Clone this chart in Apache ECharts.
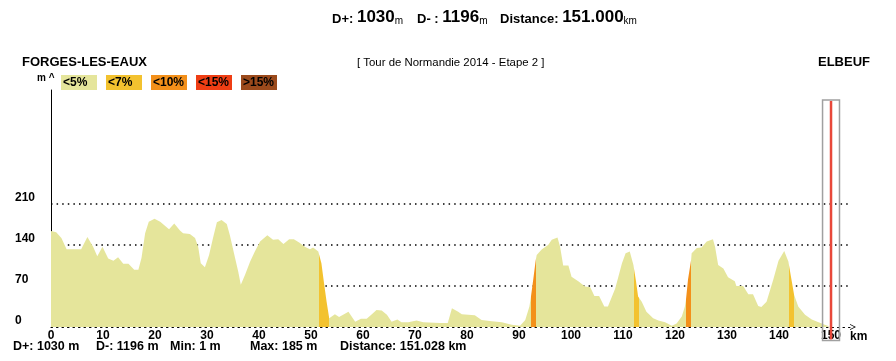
<!DOCTYPE html>
<html><head><meta charset="utf-8">
<script src="https://cdn.jsdelivr.net/npm/echarts/dist/echarts.min.js"></script>
<style>html,body{margin:0;padding:0;background:#fff}#c{width:896px;height:361px}</style>
</head><body><div id="c"></div>
<script>
// ---- data ----
const distanceKm = [0,1.0,2.0,3.0,4.5,5.8,7.0,8.1,8.9,9.9,11.0,12.0,12.9,13.9,14.9,16.0,16.8,17.4,18.1,18.8,19.9,21.0,22.7,23.7,24.8,25.4,26.7,27.7,28.3,28.8,29.6,30.4,31.2,31.9,32.8,33.8,34.4,35.4,36.0,36.5,37.3,38.3,39.2,40.2,41.6,42.7,43.7,44.7,45.8,46.7,47.8,48.8,49.8,50.4,51.4,52.0,52.5,53.0,53.5,54.6,55.4,57.2,58.5,59.6,60.7,61.7,62.6,63.6,64.6,65.5,66.6,67.4,68.7,70.3,71.6,74.8,76.3,77.1,78.3,79.0,81.5,82.8,84.8,86.7,88.6,90.2,91.2,92.0,92.3,92.75,93.2,93.4,94.4,95.6,96.3,97.4,97.9,98.5,99.5,100.1,101.4,102.7,103.7,104.5,105.4,106.4,107.1,108.5,109.8,110.5,111.3,112.0,112.5,112.9,113.6,114.5,115.8,116.8,118.1,119.4,120.3,121.3,121.9,122.1,122.5,123.1,123.2,124.2,125.1,126.1,127.3,127.7,128.3,129.3,130.2,131.5,131.8,133.1,134.1,135.0,136.0,136.6,137.6,138.9,139.9,141.0,141.8,142.3,142.9,143.7,145.0,146.3,147.6,148.8,149.8];
const elevationM = [164,162,152,133,133,133,154,137,121,137,117,113,119,108,108,98,98,118,160,180,185,180,167,177,165,160,159,152,137,109,102,123,154,179,183,176,157,118,95,72,89,112,129,146,157,149,150,142,150,150,144,137,133,136,129,109,75,43,15,22,17,26,9,14,14,22,29,28,21,9,13,8,8,11,8,7,7,32,26,22,20,12,10,8,4,2,12,35,52,82,113,123,133,140,149,153,137,105,105,86,78,69,68,53,53,35,35,66,109,126,129,106,78,52,43,26,15,11,8,2,6,18,35,46,81,115,126,135,136,146,150,137,106,100,85,78,70,70,56,56,36,34,43,81,113,130,112,86,55,35,21,13,8,4,1];
// steep sections: start km, end km, gradient class index
const gradeStartKm = [51.5, 92.3, 112.1, 122.1, 141.9];
const gradeEndKm   = [53.5, 93.2, 113.1, 123.1, 142.9];
const gradeClass   = [1, 2, 1, 2, 1];
const classLabels = ['<5%', '<7%', '<10%', '<15%', '>15%'];
const yTickValues = [0, 70, 140, 210];
const xTickValues = [0,10,20,30,40,50,60,70,80,90,100,110,120,130,140,150];
const startName = 'FORGES-LES-EAUX';
const finishName = 'ELBEUF';
const stageTitle = '[ Tour de Normandie 2014 - Etape 2 ]';
const headerStats = [['D+:', '1030', 'm'], ['D- :', '1196', 'm'], ['Distance:', '151.000', 'km']];
const footerStats = ['D+: 1030 m', 'D-: 1196 m', 'Min: 1 m', 'Max: 185 m', 'Distance: 151.028 km'];
const finishKm = 150;
const finishTopM = 388;

// ---- styles ----
const FONT = '"Liberation Sans", Arial, sans-serif';
const classColors = ['#e5e59b', '#f3c22f', '#f3901a', '#ef3e14', '#9b4a1c'];

const profile = distanceKm.map((d, i) => [d, elevationM[i]]);
const pieces = gradeStartKm.map((s, i) => ({ gte: s, lte: gradeEndKm[i], color: classColors[gradeClass[i]] }));

const chart = echarts.init(document.getElementById('c'), null, { renderer: 'canvas' });

const option = {
  animation: false,
  backgroundColor: '#ffffff',
  grid: { left: 51, right: 46, top: 90, bottom: 34, containLabel: false, outerBoundsMode: 'none' },
  xAxis: {
    type: 'value', min: 0, max: 153.65, interval: 10,
    name: 'km', nameLocation: 'end', nameGap: 0,
    nameTextStyle: { fontFamily: FONT, fontWeight: 'bold', fontSize: 12, color: '#000', align: 'left', verticalAlign: 'top', padding: [4, 0, 0, 0] },
    axisLine: { show: true, lineStyle: { color: '#000', width: 1, type: [1.5, 4] },
      symbol: ['none', 'path://M0,10 L5,0 L10,10 L8.6,10 L5,2.8 L1.4,10 Z'], symbolSize: [7, 6], symbolOffset: [0, 3] },
    axisTick: { show: false },
    splitLine: { show: false },
    axisLabel: {
      margin: 3, fontFamily: FONT, fontWeight: 'bold', fontSize: 12, color: '#000',
      showMaxLabel: true,
      formatter: v => (xTickValues.indexOf(Math.round(v * 1000) / 1000) >= 0 ? String(v) : '')
    }
  },
  yAxis: {
    type: 'value', min: 0, max: 405, interval: 70,
    axisLine: { show: true, lineStyle: { color: '#000', width: 1 } },
    axisTick: { show: false },
    splitLine: { show: false },
    axisLabel: {
      margin: 36, align: 'left', verticalAlign: 'bottom',
      fontFamily: FONT, fontWeight: 'bold', fontSize: 12, color: '#000',
      formatter: v => (yTickValues.indexOf(v) >= 0 ? String(v) : '')
    }
  },
  visualMap: {
    show: false, type: 'piecewise', dimension: 0, seriesIndex: 0,
    pieces: pieces,
    outOfRange: { color: classColors[0] }
  },
  series: [{
    type: 'line', data: profile, showSymbol: false, symbol: 'none',
    lineStyle: { width: 0 },
    areaStyle: { opacity: 1 },
    z: 2,
    markLine: {
      silent: true, symbol: 'none', z: 1,
      label: { show: false },
      lineStyle: { color: '#000', width: 1.5, type: [1.5, 4.1] },
      data: yTickValues.filter(v => v > 0).map(v => ({ yAxis: v }))
    }
  }]
};
chart.setOption(option);

// ---- annotations ----
function txt(x, y, text, size, weight, align, vAlign) {
  return { type: 'text', x: x, y: y, silent: true, z: 10,
    style: { text: text, fontSize: size, fontWeight: weight, fontFamily: FONT, fill: '#000',
      align: align || 'left', verticalAlign: vAlign || 'top' } };
}
const g = [];
const headerX = [332, 417, 500];
headerStats.forEach((h, i) => {
  g.push({ type: 'text', x: headerX[i], y: 26, silent: true, z: 10,
    style: {
      text: '{l|' + h[0] + ' }{n|' + h[1] + '}{u|' + h[2] + '}',
      align: 'left', verticalAlign: 'bottom', fill: '#000',
      rich: {
        l: { fontSize: 13, fontWeight: 'bold', fontFamily: FONT, verticalAlign: 'bottom' },
        n: { fontSize: 17, fontWeight: 'bold', fontFamily: FONT, verticalAlign: 'bottom' },
        u: { fontSize: 10, fontFamily: FONT, verticalAlign: 'bottom' }
      }
    } });
});
g.push(txt(22, 55.5, startName, 13, 'bold'));
g.push(txt(870, 55.5, finishName, 13, 'bold', 'right'));
g.push(txt(357, 57, stageTitle, 11.4, 'normal'));
g.push(txt(37, 83, 'm ^', 10, 'bold', 'left', 'bottom'));
classLabels.forEach((lab, i) => {
  const x = 61 + i * 45;
  g.push({ type: 'rect', silent: true, z: 10, shape: { x: x, y: 75, width: 36, height: 15 }, style: { fill: classColors[i] } });
  g.push(txt(x + 2, 83, lab, 12, 'bold', 'left', 'middle'));
});
const footX = [13, 96, 170, 250, 340];
footerStats.forEach((s, i) => g.push(txt(footX[i], 340, s, 12.5, 'bold')));

// finish marker, positioned with the chart's own scales
const pTopL = chart.convertToPixel({ gridIndex: 0 }, [finishKm - 1.63, finishTopM]);
const pBotR = chart.convertToPixel({ gridIndex: 0 }, [finishKm + 1.63, -23]);
const pMidTop = chart.convertToPixel({ gridIndex: 0 }, [finishKm, finishTopM]);
g.push({ type: 'rect', silent: true, z: 20,
  shape: { x: pTopL[0], y: pTopL[1], width: pBotR[0] - pTopL[0], height: pBotR[1] - pTopL[1] },
  style: { fill: 'none', stroke: '#a0a0a0', lineWidth: 1.5 } });
g.push({ type: 'line', silent: true, z: 21,
  shape: { x1: pMidTop[0], y1: pTopL[1] + 1, x2: pMidTop[0], y2: pBotR[1] - 1 },
  style: { stroke: '#e8483a', lineWidth: 2.5 } });

chart.setOption({ graphic: g });
</script>
</body></html>
